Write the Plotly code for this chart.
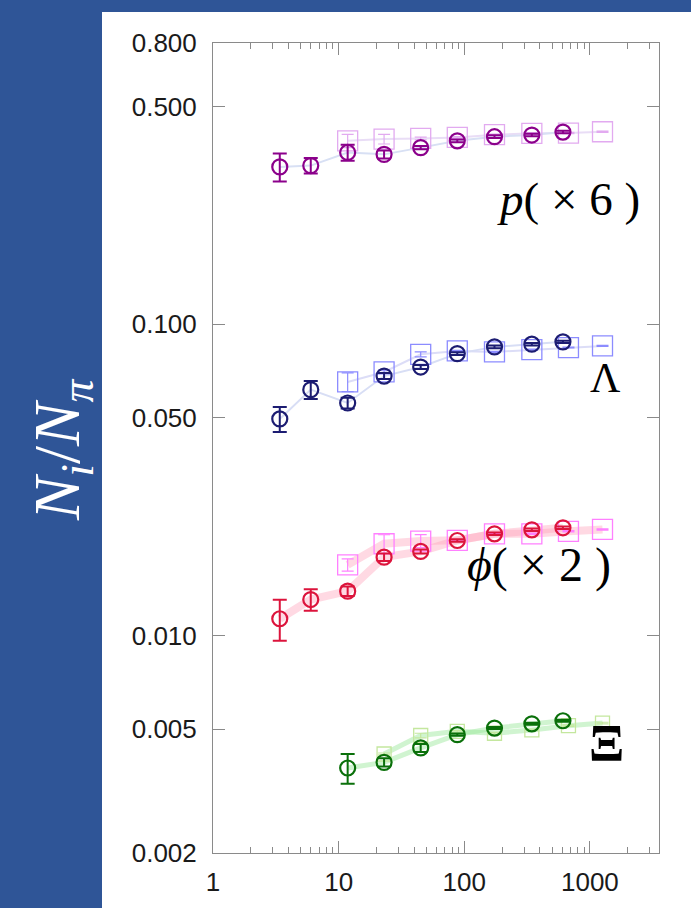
import plotly.graph_objects as go
import math

# ---------------- data (displayed values, already scaled) ----------------
x_circ = [3.4, 6.0, 11.8, 23.0, 45.0, 88.0, 174.0, 345.0, 610.0]
x_sq = [11.8, 23.0, 45.0, 88.0, 174.0, 345.0, 675.0, 1260.0]
x_xi_circ = [11.8, 23.0, 45.0, 88.0, 174.0, 345.0, 610.0]
x_xi_sq = [23.0, 45.0, 88.0, 174.0, 345.0, 675.0, 1260.0]

p_circ = [0.320, 0.323, 0.356, 0.351, 0.369, 0.388, 0.400, 0.405, 0.414]
p_circ_err = [0.033, 0.0185, 0.021, 0.0105, 0.0045, 0.004, 0.004, 0.004, 0.004]
p_sq = [0.388, 0.393, 0.395, 0.398, 0.406, 0.410, 0.411, 0.415]
p_sq_err = [0.019, 0.014, 0.004, 0.002, 0.002, 0.002, 0.002, 0.002]

lam_circ = [0.0496, 0.0616, 0.0558, 0.0681, 0.0728, 0.0804, 0.0845, 0.0862, 0.0877]
lam_circ_err = [0.0046, 0.0041, 0.0022, 0.0015, 0.0011, 0.0008, 0.0008, 0.0008, 0.0008]
lam_sq = [0.0652, 0.0702, 0.0800, 0.0820, 0.0814, 0.0828, 0.0841, 0.0851]
lam_sq_err = [0.0045, 0.0010, 0.0015, 0.0003, 0.0003, 0.0003, 0.0003, 0.0003]

phi_circ = [0.01131, 0.01304, 0.01387, 0.01784, 0.01861, 0.02018, 0.0212, 0.02184, 0.02217]
phi_circ_err = [0.0017, 0.00103, 0.00049, 0.0005, 0.00028, 0.0002, 0.0002, 0.0002, 0.0002]
phi_sq = [0.01686, 0.0197, 0.0201, 0.0202, 0.0212, 0.0212, 0.0216, 0.0219]
phi_sq_err = [0.00076, 0.00136, 0.00097, 0.0001, 0.0001, 0.0001, 0.0001, 0.0001]

xi_circ = [0.00375, 0.00391, 0.00435, 0.00480, 0.00504, 0.00520, 0.00532]
xi_circ_err = [0.00041, 0.00012, 0.00013, 0.00004, 0.00004, 0.00004, 0.00004]
xi_sq = [0.00416, 0.00477, 0.00492, 0.00485, 0.00497, 0.00513, 0.00523]
xi_sq_err = [0.00003, 0.00008, 0.00003, 0.00003, 0.00003, 0.00003, 0.00003]

y_tickvals = [0.002, 0.005, 0.010, 0.050, 0.100, 0.500, 0.800]
y_ticktext = ["0.002", "0.005", "0.010", "0.050", "0.100", "0.500", "0.800"]
x_tickvals = [1, 10, 100, 1000]
x_ticktext = ["1", "10", "100", "1000"]

BLUE_BG = "#2F5597"

fig = go.Figure()

def add_species(xc, yc, ec, xs, ys, es, ccol, scol, lcol_c, lcol_s, lw, sq_size=20):
    fig.add_trace(go.Scatter(x=xs, y=ys, mode="lines",
                             line=dict(color=lcol_s, width=lw), hoverinfo="skip"))
    fig.add_trace(go.Scatter(x=xc, y=yc, mode="lines",
                             line=dict(color=lcol_c, width=lw), hoverinfo="skip"))
    fig.add_trace(go.Scatter(x=xs, y=ys, mode="markers",
                             marker=dict(symbol="square-open", size=sq_size, color=scol,
                                         line=dict(width=1.3, color=scol)),
                             error_y=dict(type="data", array=es, color=scol,
                                          thickness=1.2, width=6)))
    fig.add_trace(go.Scatter(x=xc, y=yc, mode="markers",
                             marker=dict(symbol="circle-open", size=15, color=ccol,
                                         line=dict(width=2.2, color=ccol)),
                             error_y=dict(type="data", array=ec, color=ccol,
                                          thickness=2, width=7)))

add_species(x_circ, p_circ, p_circ_err, x_sq, p_sq, p_sq_err,
            "#8B008B", "#E2AAF0", "#D8E0F4", "#E9DDF6", 2)
add_species(x_circ, lam_circ, lam_circ_err, x_sq, lam_sq, lam_sq_err,
            "#1C1C72", "#8C8CFF", "#D8DEF5", "#DCDDF7", 2)
add_species(x_circ, phi_circ, phi_circ_err, x_sq, phi_sq, phi_sq_err,
            "#DC143C", "#FF80FF", "rgba(255,160,185,0.40)", "rgba(255,160,185,0.40)", 8)
add_species(x_xi_circ, xi_circ, xi_circ_err, x_xi_sq, xi_sq, xi_sq_err,
            "#0A700A", "#C4E79E", "rgba(150,230,150,0.45)", "rgba(150,230,150,0.45)", 5,
            sq_size=14)

axis_common = dict(
    type="log", showgrid=False, zeroline=False,
    showline=True, linecolor="#8a8a8a", linewidth=1, mirror="ticks",
    ticks="inside", tickcolor="#8a8a8a", tickwidth=1, ticklen=12,
    tickfont=dict(family="Liberation Sans, Arial, sans-serif", size=26, color="#1a1a1a"),
)

fig.update_xaxes(**axis_common, range=[0, 3.55],
                 tickvals=x_tickvals, ticktext=x_ticktext, ticklabelstandoff=6,
                 minor=dict(ticks="inside", ticklen=6, tickcolor="#8a8a8a", dtick="D1"))
fig.update_yaxes(**axis_common,
                 range=[math.log10(0.002), math.log10(0.8)],
                 tickvals=y_tickvals, ticktext=y_ticktext, ticklabelstandoff=10)

fig.update_layout(
    width=691, height=908,
    margin=dict(l=213, r=32, t=43, b=55, autoexpand=False),
    paper_bgcolor=BLUE_BG, plot_bgcolor="white",
    showlegend=False,
    shapes=[dict(type="rect", xref="paper", yref="paper", layer="below",
                 x0=(102 - 213) / 446, x1=1.2, y0=-0.2, y1=1 + 31 / 810,
                 fillcolor="white", line=dict(width=0))],
)

serif = "Liberation Serif, DejaVu Serif, serif"
ann = [
    dict(text="<i>N<sub>i</sub></i>/<i>N<sub>π</sub></i>", x=(62 - 213) / 446, y=(853 - 450) / 810,
         textangle=-90, font=dict(family=serif, size=65, color="white")),
    dict(text="<i>p</i>( × 6 )", x=(568 - 213) / 446, y=(853 - 199) / 810,
         font=dict(family=serif, size=47, color="black")),
    dict(text="Λ", x=(605 - 213) / 446, y=(853 - 378) / 810,
         font=dict(family=serif, size=42, color="black")),
    dict(text="<i>ϕ</i>( × 2 )", x=(539 - 213) / 446, y=(853 - 565) / 810,
         font=dict(family=serif, size=48, color="black")),
    dict(text="<b>Ξ</b>", x=(606 - 213) / 446, y=(853 - 743) / 810,
         font=dict(family=serif, size=52, color="black")),
]
for a in ann:
    a.update(xref="paper", yref="paper", showarrow=False, xanchor="center", yanchor="middle")
fig.update_layout(annotations=ann)

fig.write_html("out.html", config={"displayModeBar": False},
               post_script="document.body.style.margin='0';")
